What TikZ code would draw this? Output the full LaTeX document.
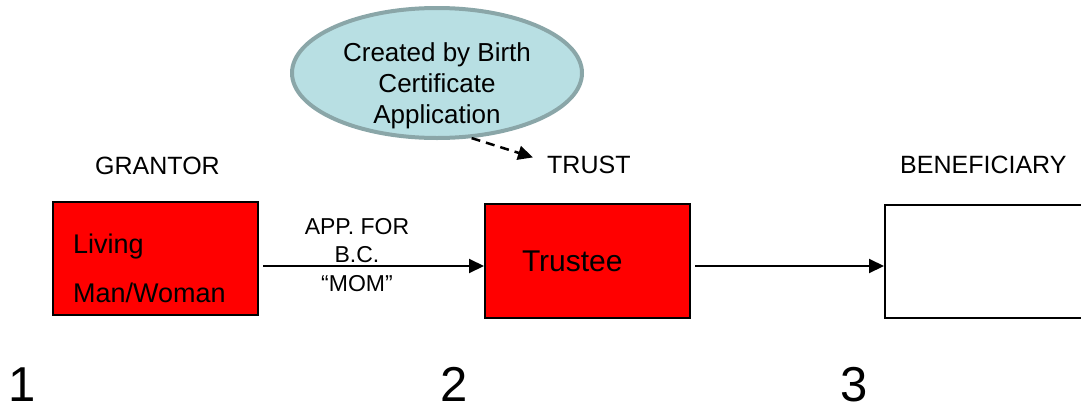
\documentclass[tikz,border=0pt]{standalone}
\usepackage{fontspec}
\setmainfont{Liberation Sans}
\usetikzlibrary{arrows.meta,positioning,shapes.geometric}
\definecolor{boxred}{RGB}{255,0,0}
\definecolor{bubblefill}{RGB}{184,223,227}
\definecolor{bubbleline}{RGB}{138,166,168}
\tikzset{>={Triangle[length=15pt,width=14pt]}}
\tikzset{
  partybox/.style={draw=black, line width=2pt, inner sep=0pt},
  heading/.style={inner sep=0pt, anchor=base west, font=\fontsize{25}{30}\selectfont},
  stagenum/.style={inner sep=0pt, anchor=base, text depth=0pt, font=\fontsize{49}{58}\selectfont}
}

\begin{document}
\begin{tikzpicture}[x=1pt,y=-1pt]
\useasboundingbox (0,0) rectangle (1081,407);
% the three parties
\node[partybox, fill=boxred, minimum width=205pt, minimum height=113pt] (grantor) at (155.5,258.5) {};
\node[inner sep=0pt, anchor=base west, align=left, font=\fontsize{27}{49}\selectfont] (livingtext) at (73,302) {Living\\Man/Woman};
\node[partybox, fill=boxred, minimum width=205pt, minimum height=114pt, text width=131pt, inner xsep=37pt, align=left, font=\fontsize{30}{36}\selectfont] (trustee) at (587.5,261) {Trustee};
\node[partybox, fill=white, minimum width=300pt, minimum height=113pt] (beneficiary) at (1035,261.5) {};
% headings
\node[heading] (grantorlabel) at (95,174) {GRANTOR};
\node[heading] (trustlabel) at (547,173) {TRUST};
\node[heading] (beneficiarylabel) at (900,173) {BENEFICIARY};
% the bubble
\node[ellipse, draw=bubbleline, fill=bubblefill, line width=4pt, minimum width=290pt, minimum height=130pt] (bubble) at (437,73) {};
\node[inner sep=0pt, align=center, font=\fontsize{26}{31}\selectfont] (bubbletext) at (437,86) {Created by Birth\\Certificate\\Application};
\draw[->, line width=2.5pt, dash pattern=on 9pt off 6pt] (bubble.-62) -- ([xshift=-14pt,yshift=7pt]trustlabel.west);
% connectors
\begin{scope}[line width = 2pt]
\draw[->, shorten <=4pt] ([yshift=-7.5pt]grantor.east) -- ([yshift=-5pt]trustee.west);
\draw[->, shorten <=4pt] ([yshift=-5pt]trustee.east) -- ([yshift=-4.5pt]beneficiary.west);
\end{scope}
\node[inner sep=0pt, align=center, font=\fontsize{23}{28.5}\selectfont] (applabel) at (357,255) {APP. FOR\\B.C.\\``MOM''};
% stage numbers
\node[stagenum] (one) at (22,401) {1};
\node[stagenum] (two) at (454,401) {2};
\node[stagenum] (three) at (854.5,401) {3};
\end{tikzpicture}
\end{document}
